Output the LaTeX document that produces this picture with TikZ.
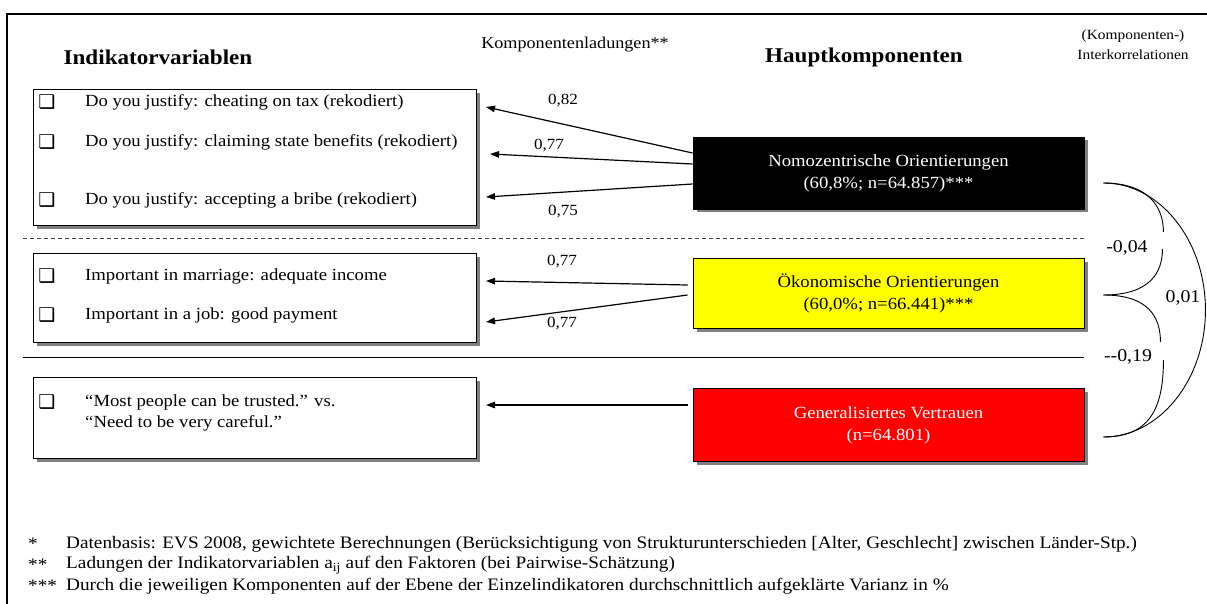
\documentclass[tikz,border=0pt]{standalone}
\usepackage{fontspec}
\setmainfont[FakeStretch=1.1]{Liberation Serif}
\newfontfamily\symfont{DejaVu Sans}
\usetikzlibrary{arrows.meta, shadows}
\definecolor{compyellow}{HTML}{FFFF00}
\definecolor{compred}{HTML}{FF0000}
\definecolor{shadegray}{HTML}{808080}

\tikzset{
  boxshadow/.style={drop shadow={shadow xshift=3.5pt, shadow yshift=-3.5pt, fill=shadegray, opacity=1}},
  indbox/.style={draw, line width=0.9pt, fill=white, minimum width=443pt, anchor=north west, inner sep=0pt, boxshadow},
  compbox/.style={draw, line width=0.9pt, minimum width=391pt, align=center, font=\fontsize{17}{22}\selectfont, boxshadow},
  indtext/.style={anchor=west, font=\fontsize{17}{21}\selectfont, align=left, inner sep=0pt},
  chk/.style={font=\symfont\fontsize{19}{19}\selectfont, inner sep=0pt},
  loading/.style={-{Triangle[length=9pt,width=6.5pt]}, line width=1.2pt},
  corr/.style={line width=0.9pt},
  numlabel/.style={font=\fontsize{15.5}{18}\selectfont, inner sep=0pt},
  corrlabel/.style={font=\fontsize{18}{20}\selectfont, inner sep=0pt},
  note/.style={anchor=west, font=\fontsize{17.5}{20}\selectfont, inner sep=0pt},
  heading/.style={font=\fontsize{21}{24}\selectfont\bfseries},
}

% one indicator: checkbox plus question text
\newcommand{\indik}[3]{%
  \node[chk] at (47,#2) {❑};
  \node[indtext] (#1) at (85,#2) {#3};
}

\begin{document}
\begin{tikzpicture}[x=1pt, y=-1pt]
  \useasboundingbox (0,0) rectangle (1207,604);

  % Frame
  \draw[line width=1.2pt] (7,604) -- (7,14) -- (1207,14);

  % Column headings
  \node[heading] (hind) at (158,57) {Indikatorvariablen};
  \node[numlabel, font=\fontsize{16.5}{18}\selectfont] (hlad) at (575,45) {Komponentenladungen**};
  \node[heading] (hhaupt) at (864,57) {Hauptkomponenten};
  \node[numlabel, align=center, font=\fontsize{14}{20}\selectfont] (hkorr) at (1133,45) {(Komponenten-)\\Interkorrelationen};

  % Indicator boxes
  \node[indbox, minimum height=136pt] (box1) at (33,89) {};
  \node[indbox, minimum height=89pt] (box2) at (33,253) {};
  \node[indbox, minimum height=81pt] (box3) at (33,377) {};

  \indik{q1}{102}{Do you justify: cheating on tax (rekodiert)}
  \indik{q2}{142}{Do you justify: claiming state benefits (rekodiert)}
  \indik{q3}{200}{Do you justify: accepting a bribe (rekodiert)}
  \indik{q4}{276}{Important in marriage: adequate income}
  \indik{q5}{315}{Important in a job: good payment}
  \node[chk] at (47,402) {❑};
  \node[indtext] (q6) at (85,413) {“Most people can be trusted.” vs.\\“Need to be very careful.”};

  % Separators
  \draw[dash pattern=on 4pt off 3pt, line width=0.9pt, black!75] (23,238) -- (1084,238);
  \draw[line width=0.9pt] (23,357) -- (1084,357);

  % Principal components
  \node[compbox, fill=black, text=white, minimum height=72pt] (nomo) at (888.5,173)
    {Nomozentrische Orientierungen\\(60,8\%; n=64.857)***};
  \node[compbox, fill=compyellow, minimum height=70pt] (oeko) at (888.5,293)
    {Ökonomische Orientierungen\\(60,0\%; n=66.441)***};
  \node[compbox, fill=compred, text=white, minimum height=73pt] (trust) at (888.5,425)
    {Generalisiertes Vertrauen\\(n=64.801)};

  % Loadings
  \coordinate (t1) at (486,107);
  \coordinate (t2) at (490,154);
  \coordinate (t3) at (486,197);
  \coordinate (t4) at (486,281);
  \coordinate (t5) at (486,322);
  \coordinate (t6) at (486,405);
  \draw[loading] ([yshift=20pt]nomo.west) -- (t1);
  \draw[loading] ([yshift=9pt]nomo.west) -- (t2);
  \draw[loading] ([yshift=-11pt]nomo.west) -- (t3);
  \draw[loading] ([xshift=-5pt,yshift=8pt]oeko.west) -- (t4);
  \draw[loading] ([xshift=-5pt,yshift=-2pt]oeko.west) -- (t5);
  \draw[loading] ([xshift=-5pt,yshift=20pt]trust.west) -- (t6);
  \node[numlabel] (l1) at (563,101) {0,82};
  \node[numlabel] (l2) at (549,146) {0,77};
  \node[numlabel] (l3) at (563,212) {0,75};
  \node[numlabel] (l4) at (562,262) {0,77};
  \node[numlabel] (l5) at (562,324) {0,77};

  % Intercorrelations
  \coordinate (cN) at ([xshift=19pt,yshift=-10pt]nomo.east);
  \coordinate (cO) at ([xshift=19pt,yshift=-2pt]oeko.east);
  \coordinate (cG) at ([xshift=19pt,yshift=-12pt]trust.east);
  \draw[corr] (cN) .. controls +(45,0) and +(0,-25) .. ++(60,49)
    ++(-1,17) .. controls +(0,25) and +(45,0) .. (cO);
  \draw[corr] (cO) .. controls +(45,0) and +(0,-25) .. ++(57,47)
    ++(3,18) .. controls +(0,50) and +(45,0) .. (cG);
  \draw[corr] (cN) .. controls +(56,0) and +(0,-70) .. ++(102,127)
    .. controls +(0,70) and +(56,0) .. (cG);
  \node[corrlabel] (r1) at (1127,248) {-0,04};
  \node[corrlabel] (r2) at (1128,357) {-{}-0,19};
  \node[corrlabel] (r3) at (1183,298) {0,01};

  % Footnotes
  \node[note] (f1m) at (28,544) {*};
  \node[note] (f2m) at (28,565) {**};
  \node[note] (f3m) at (28,586) {***};
  \node[note] (f1) at (66,544) {Datenbasis: EVS 2008, gewichtete Berechnungen (Berücksichtigung von Strukturunterschieden [Alter, Geschlecht] zwischen Länder-Stp.)};
  \node[note] (f2) at (66,565) {Ladungen der Indikatorvariablen a\textsubscript{ij} auf den Faktoren (bei Pairwise-Schätzung)};
  \node[note] (f3) at (66,586) {Durch die jeweiligen Komponenten auf der Ebene der Einzelindikatoren durchschnittlich aufgeklärte Varianz in \%};
\end{tikzpicture}
\end{document}
